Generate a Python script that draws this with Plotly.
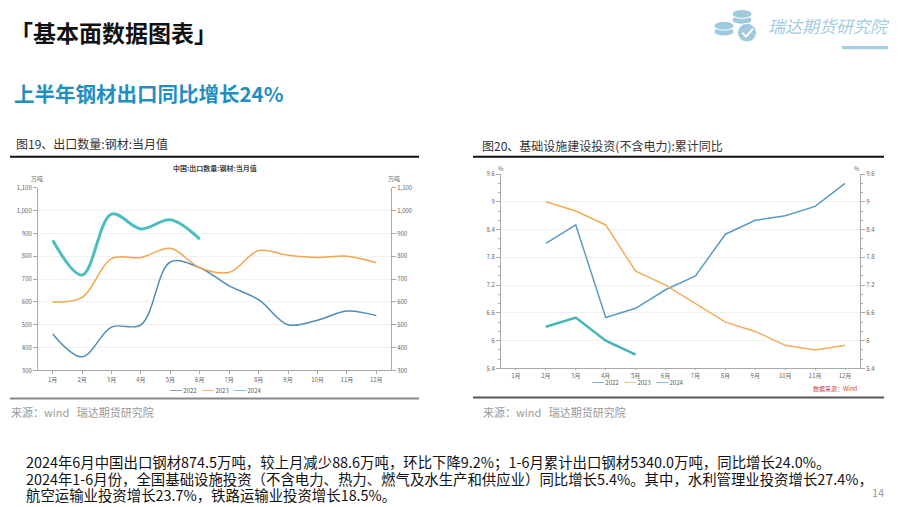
#!/usr/bin/env python3
"""
Slide: steel export monthly volume and infrastructure investment cumulative YoY.
"""

import plotly.graph_objects as go

W, H = 900, 507
PAD = 8  # default body margin of the html page
FONT = "Noto Sans CJK SC"

# ---------------- data ----------------
months = ['1月', '2月', '3月', '4月', '5月', '6月', '7月', '8月', '9月', '10月', '11月', '12月']
years = ['2022', '2023', '2024']

# 图19 出口数量:钢材:当月值 (万吨)
export_2022 = [460, 360, 490, 500, 775, 750, 670, 610, 500, 520, 560, 540]
export_2023 = [600, 620, 790, 795, 835, 750, 730, 825, 805, 795, 800, 772]
export_2024 = [870, 718, 985, 920, 960, 875]

# 图20 基础设施建设投资(不含电力):累计同比 (%) - starts from 2月
infra_2022 = [8.1, 8.5, 6.5, 6.7, 7.1, 7.4, 8.3, 8.6, 8.7, 8.9, 9.4]
infra_2023 = [9.0, 8.8, 8.5, 7.5, 7.2, 6.8, 6.4, 6.2, 5.9, 5.8, 5.9]
infra_2024 = [6.3, 6.5, 6.0, 5.7]

infra_ticks = [5.4, 6, 6.6, 7.2, 7.8, 8.4, 9, 9.6]
infra_ticktext = ['5.4', '6', '6.6', '7.2', '7.8', '8.4', '9', '9.6']

left_colors = ['#4f8db5', '#f2a54a', '#4bbfbf']
right_colors = ['#5a9cc5', '#f0ac5a', '#45b5b5']

# the page body keeps an 8px margin; the figure may run past the bottom/right edge
FW, FH = W - PAD, H - PAD


def px(x):
    # page pixel -> paper x
    return (x - PAD) / FW


def py(y):
    return 1 - (y - PAD) / FH


fig = go.Figure()

# ---------------- left chart ----------------
left_series = [export_2022, export_2023, export_2024]
for yr, vals, col, w in zip(years, left_series, left_colors, [1.5, 1.5, 3]):
    fig.add_trace(go.Scatter(x=months[:len(vals)], y=vals, name=yr, mode='lines',
                             line=dict(color=col, width=w, shape='spline', smoothing=1),
                             xaxis='x', yaxis='y', showlegend=False))

# ---------------- right chart ----------------
right_series = [infra_2022, infra_2023, infra_2024]
for yr, vals, col, w in zip(years, right_series, right_colors, [1.5, 1.5, 2.5]):
    fig.add_trace(go.Scatter(x=months[1:1 + len(vals)], y=vals, name=yr, mode='lines',
                             line=dict(color=col, width=w),
                             xaxis='x3', yaxis='y3', showlegend=False))

# make the mirrored right axes visible
fig.add_trace(go.Scatter(x=[months[0]], y=[None], xaxis='x', yaxis='y2', showlegend=False, hoverinfo='skip'))
fig.add_trace(go.Scatter(x=[months[0]], y=[None], xaxis='x3', yaxis='y4', showlegend=False, hoverinfo='skip'))

tickfont = dict(family=FONT, size=6, color='#666')
axline = dict(showline=True, linecolor='#aaa', linewidth=1, ticks='outside',
              tickcolor='#aaa', tickfont=tickfont, zeroline=False)
minor = dict(dtick=0.2, tick0=5.4, ticks='outside', ticklen=2, tickcolor='#aaa')

fig.update_layout(
    width=FW, height=FH,
    margin=dict(l=0, r=0, t=0, b=0),
    paper_bgcolor='white', plot_bgcolor='white',
    font=dict(family=FONT, color='#222'),
    showlegend=False,
    xaxis=dict(domain=[px(38), px(391)], anchor='y', type='category',
               categoryorder='array', categoryarray=months, ticklen=3,
               range=[-0.5, 11.5], showgrid=False, **axline),
    yaxis=dict(domain=[py(372), py(186)], anchor='x', range=[300, 1100], dtick=100,
               tickformat=',', ticklen=4, showgrid=True, gridcolor='#f0f0f0', **axline),
    yaxis2=dict(overlaying='y', side='right', anchor='x', range=[300, 1100], dtick=100,
                tickformat=',', ticklen=4, showgrid=False, **axline),
    xaxis3=dict(domain=[px(501), px(860)], anchor='y3', type='category',
                categoryorder='array', categoryarray=months, ticklen=1,
                range=[-0.5, 11.5], showgrid=False, **axline),
    yaxis3=dict(domain=[py(370), py(172)], anchor='x3', range=[5.4, 9.6],
                tickvals=infra_ticks, ticktext=infra_ticktext, ticklen=4,
                showgrid=True, gridcolor='#f0f0f0', minor=minor, **axline),
    yaxis4=dict(overlaying='y3', side='right', anchor='x3', range=[5.4, 9.6],
                tickvals=infra_ticks, ticktext=infra_ticktext, ticklen=4, showgrid=False,
                minor=minor, **axline),
)


# ---------------- texts ----------------
def text(x, y, s, size, color='#222', bold=False, anchor='left', italic=False):
    if bold:
        s = f'<b>{s}</b>'
    if italic:
        s = f'<i>{s}</i>'
    fig.add_annotation(x=px(x), y=py(y), xref='paper', yref='paper', text=s,
                       showarrow=False, xanchor=anchor, yanchor='middle',
                       font=dict(family=FONT, size=size, color=color))


def legend_text(colors):
    parts = [f'<span style="color:{c}">━━</span> {yr}' for yr, c in zip(years, colors)]
    return '    '.join(parts)


text(8, 27, '「基本面数据图表」', 23, '#111', bold=True)
text(12, 89, '上半年钢材出口同比增长24%', 20.5, '#1f8fc2', bold=True)
text(14, 141, '图19、出口数量:钢材:当月值', 12, '#333')
text(480, 143, '图20、基础设施建设投资(不含电力):累计同比', 12, '#333')

text(215, 166, '中国:出口数量:钢材:当月值', 7, '#444', bold=True, anchor='center')
text(37, 177, '万吨', 6, '#666', anchor='center')
text(394, 177, '万吨', 6, '#666', anchor='center')
text(501, 166, '%', 6, '#666', anchor='center')
text(857, 166, '%', 6, '#666', anchor='center')
text(835, 390, '数据来源：Wind', 6, '#d04040', anchor='center')

text(215, 392, legend_text(left_colors), 6, '#555', anchor='center')
text(637, 384, legend_text(right_colors), 6, '#555', anchor='center')

text(9, 414, '来源：wind   瑞达期货研究院', 11, '#999')
text(481, 414, '来源：wind   瑞达期货研究院', 11, '#999')

text(24, 465, '2024年6月中国出口钢材874.5万吨，较上月减少88.6万吨，环比下降9.2%；1-6月累计出口钢材5340.0万吨，同比增长24.0%。', 14.4, '#111')
text(24, 482, '2024年1-6月份，全国基础设施投资（不含电力、热力、燃气及水生产和供应业）同比增长5.4%。其中，水利管理业投资增长27.4%，', 14.4, '#111')
text(24, 498, '航空运输业投资增长23.7%，铁路运输业投资增长18.5%。', 14.4, '#111')
text(878, 496, '14', 11, '#999', anchor='center')

# logo
text(829, 21, '瑞达期货研究院', 17, '#a6cde0', anchor='center', italic=True)


# ---------------- shapes ----------------
def hline(x0, x1, y, color, width):
    fig.add_shape(type='line', xref='paper', yref='paper', x0=px(x0), x1=px(x1),
                  y0=py(y), y1=py(y), line=dict(color=color, width=width))


def ellipse(cx, cy, rx, ry, color):
    fig.add_shape(type='circle', xref='paper', yref='paper',
                  x0=px(cx - rx), x1=px(cx + rx), y0=py(cy + ry), y1=py(cy - ry),
                  fillcolor=color, line=dict(color='white', width=1))


hline(10, 419, 154.5, '#111', 2)
hline(10, 419, 400.5, '#888', 2)
hline(473, 884, 154.5, '#111', 2)
hline(473, 884, 399.5, '#555', 2)

fig.add_shape(type='rect', xref='paper', yref='paper', x0=px(842), x1=px(888),
              y0=py(45), y1=py(41.5), fillcolor='#a6cde0', line=dict(width=0))
ellipse(742, 15, 10, 4.5, '#9fc9dd')
ellipse(742, 9, 10, 4.5, '#9fc9dd')
ellipse(724, 27, 10, 4.5, '#9fc9dd')
ellipse(724, 21, 10, 4.5, '#9fc9dd')
ellipse(747, 28, 9.5, 9.5, '#9fc9dd')
fig.add_shape(type='path', xref='paper', yref='paper',
              path=f'M {px(742)},{py(28)} L {px(746)},{py(32)} L {px(753)},{py(24)}',
              line=dict(color='white', width=2))

fig.write_html("out.html")
